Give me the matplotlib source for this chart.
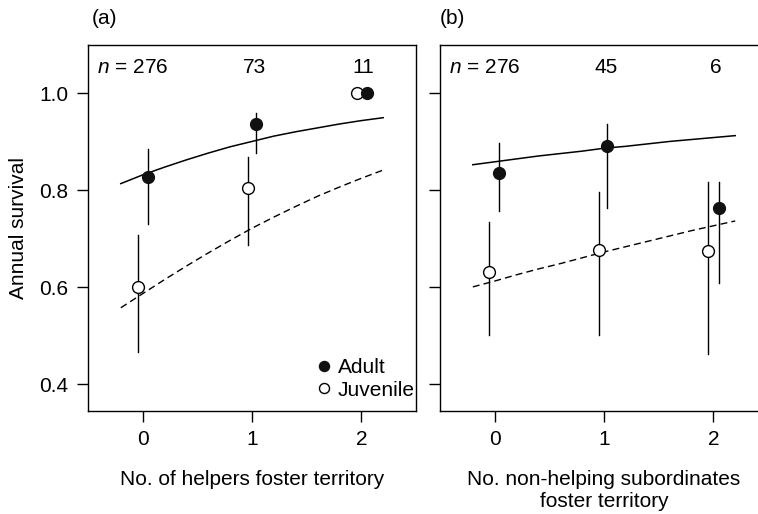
import matplotlib
matplotlib.use("Agg")
import matplotlib.pyplot as plt

plt.rcParams['font.family'] = ['Liberation Sans', 'DejaVu Sans']
plt.rcParams['font.size'] = 15
plt.rcParams['mathtext.fontset'] = 'custom'
plt.rcParams['mathtext.it'] = 'Liberation Sans:italic'
plt.rcParams['mathtext.rm'] = 'Liberation Sans'

# panel (a): number of helpers in foster territory
a_adult_x = [0.05, 1.04, 2.05]
a_adult_y = [0.827, 0.938, 1.0]
a_adult_lo = [0.730, 0.878, None]
a_adult_hi = [0.885, 0.959, None]
a_juv_x = [-0.04, 0.96, 1.96]
a_juv_y = [0.600, 0.806, 1.0]
a_juv_lo = [0.466, 0.687, None]
a_juv_hi = [0.707, 0.868, None]
a_n = ["276", "73", "11"]

# panel (b): number of non-helping subordinates
b_adult_x = [0.04, 1.03, 2.05]
b_adult_y = [0.835, 0.891, 0.763]
b_adult_lo = [0.757, 0.763, 0.608]
b_adult_hi = [0.897, 0.938, 0.817]
b_juv_x = [-0.05, 0.95, 1.95]
b_juv_y = [0.631, 0.678, 0.674]
b_juv_lo = [0.501, 0.501, 0.462]
b_juv_hi = [0.734, 0.796, 0.817]
b_n = ["276", "45", "6"]

# fitted survival curves
fit_x = [-0.2, 0.0, 0.2, 0.4, 0.6, 0.8, 1.0, 1.2, 1.4, 1.6, 1.8, 2.0, 2.2]
a_fit_adult = [0.814, 0.832, 0.848, 0.863, 0.877, 0.890, 0.901,
               0.912, 0.921, 0.929, 0.937, 0.944, 0.950]
a_fit_juv = [0.558, 0.587, 0.616, 0.644, 0.671, 0.697, 0.722,
             0.745, 0.767, 0.788, 0.807, 0.825, 0.842]
b_fit_adult = [0.853, 0.859, 0.865, 0.871, 0.876, 0.881, 0.887,
               0.891, 0.896, 0.901, 0.905, 0.909, 0.913]
b_fit_juv = [0.601, 0.613, 0.626, 0.638, 0.649, 0.661, 0.673,
             0.684, 0.695, 0.706, 0.717, 0.727, 0.737]

fig = plt.figure(figsize=(7.58, 5.14), dpi=100)
ax1 = fig.add_axes([0.1161, 0.2004, 0.4327, 0.7121])
ax2 = fig.add_axes([0.5805, 0.2004, 0.4327, 0.7121])


def draw_panel(ax, ax_x, ay, alo, ahi, jx, jy, jlo, jhi, fa, fj, nlab):
    ax.plot(fit_x, fa, color='black', lw=1.1)
    ax.plot(fit_x, fj, color='black', lw=1.0, ls=(0, (5, 3)))
    for x, lo, hi in zip(ax_x + jx, alo + jlo, ahi + jhi):
        if lo is not None:
            ax.plot([x, x], [lo, hi], color='black', lw=1.0)
    ax.plot(jx, jy, 'o', ms=8.5, mfc='white', mec='black', mew=1.0,
            label='Juvenile', zorder=3)
    ax.plot(ax_x, ay, 'o', ms=8.5, mfc='#111111', mec='#111111',
            label='Adult', zorder=4)
    ax.text(-0.42, 1.054, '$n$ = ' + nlab[0], ha='left', va='center')
    ax.text(1.02, 1.054, nlab[1], ha='center', va='center')
    ax.text(2.02, 1.054, nlab[2], ha='center', va='center')
    ax.set_xlim(-0.5, 2.5)
    ax.set_ylim(0.345, 1.1)
    ax.set_xticks([0, 1, 2])
    ax.set_yticks([0.4, 0.6, 0.8, 1.0])
    ax.tick_params(direction='out', length=8, width=1.0, pad=6,
                   labelsize=15)
    for sp in ax.spines.values():
        sp.set_linewidth(1.0)


draw_panel(ax1, a_adult_x, a_adult_y, a_adult_lo, a_adult_hi,
           a_juv_x, a_juv_y, a_juv_lo, a_juv_hi,
           a_fit_adult, a_fit_juv, a_n)
draw_panel(ax2, b_adult_x, b_adult_y, b_adult_lo, b_adult_hi,
           b_juv_x, b_juv_y, b_juv_lo, b_juv_hi,
           b_fit_adult, b_fit_juv, b_n)

ax1.set_yticklabels(['0.4', '0.6', '0.8', '1.0'])
ax2.set_yticklabels([])
ax1.set_ylabel('Annual survival', labelpad=8)
ax1.set_xlabel('No. of helpers foster territory', labelpad=15)
ax2.set_xlabel('No. non-helping subordinates\nfoster territory',
               labelpad=15, linespacing=1.2)

h, l = ax1.get_legend_handles_labels()
leg = ax1.legend(h[::-1], l[::-1], loc='lower right',
                 bbox_to_anchor=(1.01, 0.02), frameon=False,
                 handlelength=0.6, handletextpad=0.4, labelspacing=0.15,
                 borderaxespad=0.0, borderpad=0.2, markerscale=0.85,
                 fontsize=15)

fig.text(92 / 758, 1 - 18 / 514, '(a)', ha='left', va='center', fontsize=15)
fig.text(440 / 758, 1 - 18 / 514, '(b)', ha='left', va='center', fontsize=15)

fig.savefig('out.png', dpi=100)
